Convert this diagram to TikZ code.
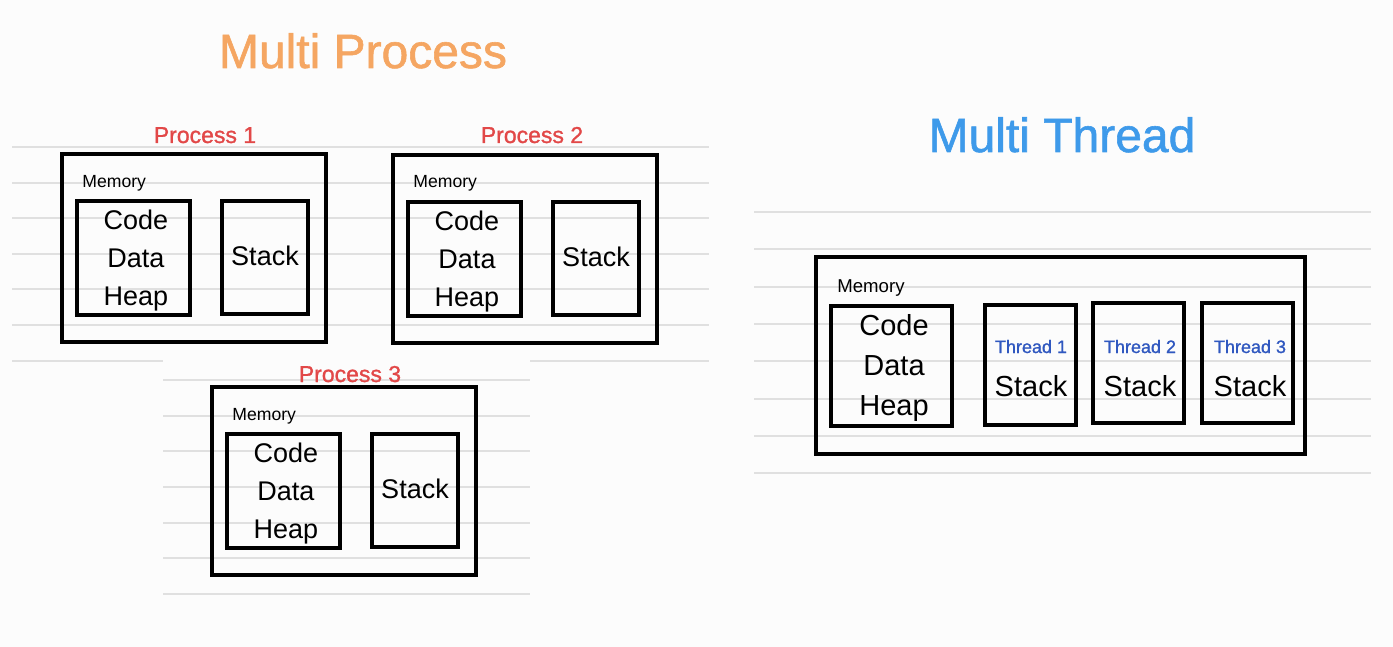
\documentclass[tikz,border=0pt]{standalone}
\usepackage{fontspec}
\setmainfont{Liberation Sans}
\newfontfamily\medfont[FakeBold=1.2]{Liberation Sans}
\usetikzlibrary{positioning}
\definecolor{bgGray}{RGB}{252,252,252}
\definecolor{ruleGray}{RGB}{224,224,224}
\definecolor{titleOrange}{RGB}{245,166,98}
\definecolor{titleBlue}{RGB}{62,154,234}
\definecolor{procRed}{RGB}{226,72,72}
\definecolor{thrBlue}{RGB}{48,88,192}

\tikzset{
  membox/.style={draw,line width=1.8pt,inner sep=0pt},
  partbox/.style={draw,line width=1.8pt,inner sep=0pt},
  memlabel/.style={inner sep=0pt,anchor=base west,font=\fontsize{8.8}{10}\selectfont},
  proclabel/.style={inner sep=0pt,anchor=base,text=procRed,font=\medfont\fontsize{11.5}{13}\selectfont},
  thrlabel/.style={inner sep=0pt,anchor=base,text=thrBlue,font=\medfont\fontsize{9}{11}\selectfont},
  parttext/.style={inner sep=0pt,anchor=base,align=center,font=\fontsize{13.5}{19}\selectfont},
  thrtext/.style={inner sep=0pt,anchor=base,align=center,font=\fontsize{14.5}{20}\selectfont},
  title/.style={inner sep=0pt,anchor=base,font=\medfont\fontsize{24}{28}\selectfont},
  ruled/.style={draw=ruleGray,line width=0.75pt}
}

\begin{document}
\begin{tikzpicture}[x=0.5pt,y=-0.5pt]
\fill[bgGray] (0,0) rectangle (1393,647);
\useasboundingbox (0,0) rectangle (1393,647);

% notebook lines
\foreach \y in {147,183,218,254,289,325}
  \draw[ruled] (12,\y) -- (709,\y);
\draw[ruled] (12,361) -- (163,361);
\draw[ruled] (530,361) -- (709,361);
\foreach \y in {380,416,451,487,523,558,594}
  \draw[ruled] (163,\y) -- (530,\y);
\foreach \y in {212,249,287,324,361,399,436,473}
  \draw[ruled] (754,\y) -- (1371,\y);

% titles
\node[title,text=titleOrange] (mptitle) at (363,68) {Multi Process};
\node[title,text=titleBlue] (mttitle) at (1062,152) {Multi Thread};

% processes
\foreach \n/\dx/\dy/\lx/\ly in {1/0/0/205/143, 2/331/1/532/143, 3/150/233/350/382}{
  \node[proclabel] (plab\n) at (\lx,\ly) {Process \n};
  \begin{scope}[shift={(\dx,\dy)}]
    \node[membox,minimum width=132pt,minimum height=94pt] (pmem\n) at (194,248) {};
    \node[memlabel] (pmemlab\n) at (82,187) {Memory};
    \node[partbox,minimum width=56.5pt,minimum height=57pt] (pcdh\n) at (133.5,258) {};
    \node[parttext] (pcdhtext\n) at (136,305) {Code\\Data\\Heap};
    \node[partbox,minimum width=43pt,minimum height=56.5pt] (pstk\n) at (265,257.5) {};
    \node[parttext] (pstktext\n) at (265,265) {Stack};
  \end{scope}
}

% threads
\node[membox,minimum width=244.5pt,minimum height=98.5pt] (tmem) at (1060.5,355.5) {};
\node[memlabel,font=\fontsize{9.3}{11}\selectfont] (tmemlab) at (837,292) {Memory};
\node[partbox,minimum width=60.5pt,minimum height=60pt] (tcdh) at (891.5,366) {};
\node[thrtext] (tcdhtext) at (894,415) {Code\\Data\\Heap};
\foreach \n/\bx/\by/\tx in {1/1030.5/365/1031, 2/1138.5/363/1140, 3/1247.5/363/1250}{
  \node[partbox,minimum width=45.5pt,minimum height=60pt] (tstk\n) at (\bx,\by) {};
  \node[thrlabel] (tlab\n) at (\tx,353) {Thread \n};
  \node[thrtext] (tstktext\n) at (\tx,396) {Stack};
}
\end{tikzpicture}
\end{document}
